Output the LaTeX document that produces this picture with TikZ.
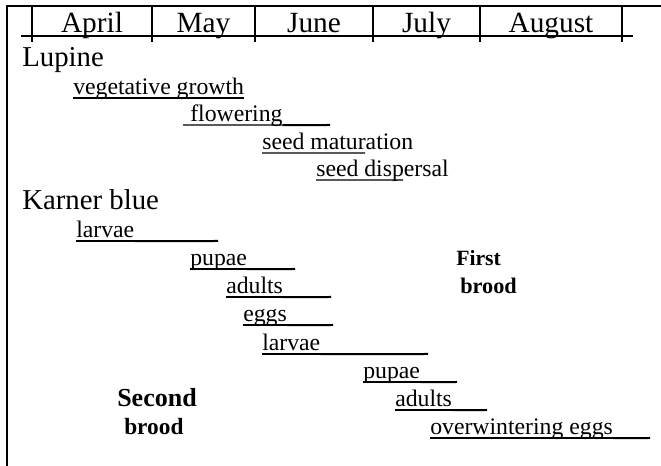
\documentclass[tikz,border=0pt]{standalone}
\usepackage{fontspec}
\setmainfont{Liberation Serif}
\begin{document}
\begin{tikzpicture}[x=0.75pt,y=-0.75pt,
  hdr/.style={inner sep=0pt,anchor=base,font=\fontsize{22}{24}\selectfont},
  big/.style={inner sep=0pt,anchor=base west,font=\fontsize{21.6}{24}\selectfont},
  item/.style={inner sep=0pt,anchor=base west,font=\fontsize{17.8}{20}\selectfont},
  bld/.style={inner sep=0pt,anchor=base west,font=\bfseries},
  frame/.style={line width=1.6pt},
  tick/.style={line width=1.4pt},
  ul/.style={line width=1pt},
  uls/.style={line width=1.5pt}]
\useasboundingbox (0,0) rectangle (661,466);
% frame
\draw[frame] (7,6) -- (661,6);
\draw[frame] (7,5) -- (7,466);
\draw[tick] (21,36) -- (633,36);
\foreach \x/\n in {32/t1,152/t2,255/t3,373/t4,480/t5,622/t6}{
  \coordinate (\n) at (\x,7);
  \draw[tick] (\x,7) -- (\x,42);
}
% header
\node[hdr] (apr) at (92,33) {April};
\node[hdr] (may) at (203.5,33) {May};
\node[hdr] (jun) at (314,33) {June};
\node[hdr] (jul) at (426.5,33) {July};
\node[hdr] (aug) at (551,33) {August};
% Lupine
\node[big] (lup) at (22,67) {Lupine};
\node[item] (veg) at (73,95) {vegetative growth};
\draw[ul] ([yshift=-2.3pt]veg.base west) -- ([yshift=-2.3pt]veg.base east);
\node[item] (flo) at (190,122) {flowering};
\draw[ul] (183,125) -- ([yshift=-2.3pt]flo.base east);
\draw[uls] ([yshift=-2.3pt]flo.base east) -- (330,125);
\node[item] (smat) at (262,150) {seed maturation};
\draw[ul] ([yshift=-2.3pt]smat.base west) -- (365,153);
\node[item] (sdis) at (316,177) {seed dispersal};
\draw[ul] ([yshift=-2.3pt]sdis.base west) -- (403,180);
% Karner blue
\node[big] (kb) at (22,210) {Karner blue};
\node[item] (lar1) at (76,238) {larvae};
\draw[ul] ([yshift=-2.3pt]lar1.base west) -- ([yshift=-2.3pt]lar1.base east);
\draw[uls] ([yshift=-2.3pt]lar1.base east) -- (218,241);
\node[item] (pup1) at (190,266) {pupae};
\draw[ul] ([yshift=-2.3pt]pup1.base west) -- ([yshift=-2.3pt]pup1.base east);
\draw[uls] ([yshift=-2.3pt]pup1.base east) -- (295,269);
\node[item] (adu1) at (226,294) {adults};
\draw[ul] ([yshift=-2.3pt]adu1.base west) -- ([yshift=-2.3pt]adu1.base east);
\draw[uls] ([yshift=-2.3pt]adu1.base east) -- (331,297);
\node[item] (egg) at (243,322) {eggs};
\draw[ul] ([yshift=-2.3pt]egg.base west) -- ([yshift=-2.3pt]egg.base east);
\draw[uls] ([yshift=-2.3pt]egg.base east) -- (333,325);
\node[item] (lar2) at (262,351) {larvae};
\draw[ul] ([yshift=-2.3pt]lar2.base west) -- ([yshift=-2.3pt]lar2.base east);
\draw[uls] ([yshift=-2.3pt]lar2.base east) -- (428,354);
\node[item] (pup2) at (363,379) {pupae};
\draw[ul] ([yshift=-2.3pt]pup2.base west) -- ([yshift=-2.3pt]pup2.base east);
\draw[uls] ([yshift=-2.3pt]pup2.base east) -- (457,382);
\node[item] (adu2) at (395,407) {adults};
\draw[ul] ([yshift=-2.3pt]adu2.base west) -- ([yshift=-2.3pt]adu2.base east);
\draw[uls] ([yshift=-2.3pt]adu2.base east) -- (487,410);
\node[item] (ovw) at (430,435) {overwintering eggs};
\draw[ul] ([yshift=-2.3pt]ovw.base west) -- ([yshift=-2.3pt]ovw.base east);
\draw[uls] ([yshift=-2.3pt]ovw.base east) -- (650,438);
% brood labels
\node[bld,font=\bfseries\fontsize{16.3}{18}\selectfont] (first) at (456,266) {First};
\node[bld,font=\bfseries\fontsize{16.7}{18}\selectfont] (brood1) at (460,294) {brood};
\node[bld,font=\bfseries\fontsize{19.5}{22}\selectfont] (second) at (117,407) {Second};
\node[bld,font=\bfseries\fontsize{17.5}{20}\selectfont] (brood2) at (124,435) {brood};
\end{tikzpicture}
\end{document}
